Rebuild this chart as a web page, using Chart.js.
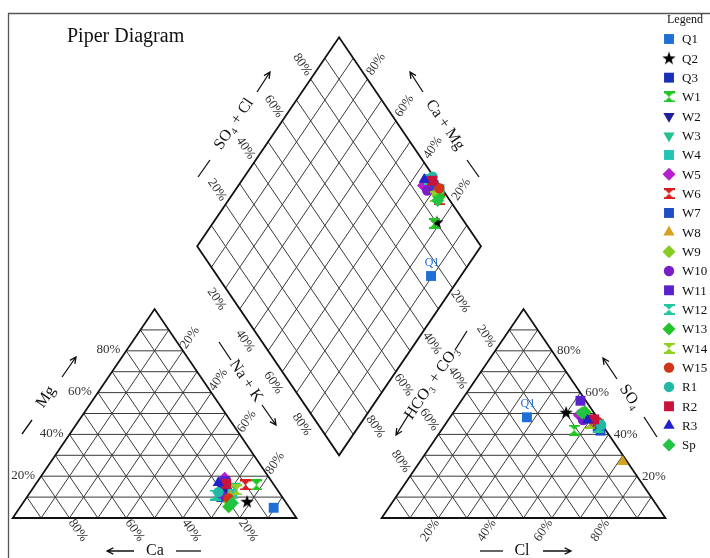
<!DOCTYPE html>
<html lang="en">
<head>
<meta charset="UTF-8">
<title>Piper Diagram</title>
<script src="https://cdn.jsdelivr.net/npm/chart.js"></script>
<style>
  html, body { margin: 0; padding: 0; background: #fff; }
  #box { width: 710px; height: 558px; }
</style>
</head>
<body>
<div id="box"><canvas id="piper" width="710" height="558"></canvas></div>
<script>
// samples, in legend order
const samples = ['Q1','Q2','Q3','W1','W2','W3','W4','W5','W6','W7','W8','W9','W10',
                 'W11','W12','W13','W14','W15','R1','R2','R3','Sp'];
// cations, % meq/l
const caPct  = [5.6, 13.5, 19.4, 6.2, 17.5, 13.9, 16.8, 15.8, 10.1, 21.5, 18.1, 19.8, 21.3, 18.3, 23.1, 21.2, 14.5, 19.2, 21.3, 16.6, 19.1, 19.0];
const mgPct  = [4.9, 7.8, 13.4, 15.8, 14.4, 15.3, 11.5, 19.0, 15.8, 10.0, 10.5, 7.7, 11.0, 17.7, 11.0, 5.4, 13.4, 9.4, 12.4, 16.3, 16.9, 7.2];
const naKPct = [89.5, 78.7, 67.2, 78.0, 68.1, 70.8, 71.7, 65.2, 74.1, 68.5, 71.4, 72.5, 67.7, 66.0, 65.9, 73.4, 72.1, 71.4, 66.3, 67.1, 64.0, 73.8];
// anions, % meq/l
const hco3Pct = [24.7, 9.8, 2.3, 11.1, 3.4, 1.5, 0.9, 5.7, 3.6, 2.0, 1.6, 3.1, 5.6, 1.9, 2.0, 3.0, 4.1, 0.8, 0.4, 1.5, 4.0, 4.3];
const so4Pct  = [48.2, 50.4, 43.1, 42.1, 47.9, 45.9, 45.0, 49.3, 45.3, 41.8, 26.9, 50.9, 46.9, 56.1, 43.5, 50.7, 45.0, 46.1, 44.5, 47.2, 46.9, 50.2];
const clPct   = [27.1, 39.8, 54.6, 46.8, 48.7, 52.6, 54.1, 45.0, 51.1, 56.2, 71.5, 46.0, 47.5, 42.0, 54.5, 46.3, 50.9, 53.1, 55.1, 51.3, 49.1, 45.5];
const tickPct = [20, 40, 60, 80];
const labelled = ['Q1'];

// marker look per sample
const colors = ['#1f6fd6','#000000','#1a2fb8','#22c422','#1f1f9e','#22c28a','#22c4b4','#b61fd0',
                '#d81f1f','#1f4fc4','#d4a21f','#86cc22','#7a1fc8','#5a22cc','#22c4a0','#22c42a',
                '#8fd022','#d0341a','#22b8a6','#c8143a','#2222c8','#22c444'];
const shapes = ['rect','star','rect','hour','down','down','rect','diamond','hour','rect','triangle',
                'diamond','circle','rect','hour','diamond','hour','circle','circle','rect','triangle','diamond'];

// geometry: triangle side 100, gap 30
const H = Math.sqrt(3) / 2 * 100;
const GAP = 30;
const R0 = 100 + GAP;                                    // left corner of anion triangle
const DL = { x: 100 + GAP / 2 - 50, y: H + GAP * H / 100 };   // diamond left vertex
const DT = { x: DL.x + 50, y: DL.y + H };
const DR = { x: DL.x + 100, y: DL.y };
const DB = { x: DL.x + 50, y: DL.y - H };

function cationXY(i) {
  return { x: naKPct[i] + mgPct[i] / 2, y: mgPct[i] * H / 100 };
}
function anionXY(i) {
  return { x: R0 + clPct[i] + so4Pct[i] / 2, y: so4Pct[i] * H / 100 };
}
function diamondXY(i) {
  const u = (so4Pct[i] + clPct[i]) / 100, v = naKPct[i] / 100;
  return { x: DL.x + 50 * (u + v), y: DL.y + H * (u - v) };
}

function hourglass(color) {
  const c = document.createElement('canvas');
  c.width = 11; c.height = 11;
  const g = c.getContext('2d');
  g.fillStyle = color;
  g.beginPath();
  g.moveTo(0.5, 0.5); g.lineTo(10.5, 0.5); g.lineTo(5.5, 5.5);
  g.lineTo(10.5, 10.5); g.lineTo(0.5, 10.5); g.lineTo(5.5, 5.5);
  g.closePath(); g.fill();
  g.fillRect(0, 0, 11, 2); g.fillRect(0, 9, 11, 2);
  return c;
}
function star(color) {
  const c = document.createElement('canvas');
  c.width = 14; c.height = 14;
  const g = c.getContext('2d');
  g.fillStyle = color;
  g.beginPath();
  for (let k = 0; k < 10; k++) {
    const r = k % 2 ? 2.8 : 7;
    const a = -Math.PI / 2 + k * Math.PI / 5;
    g.lineTo(7 + r * Math.cos(a), 7.3 + r * Math.sin(a));
  }
  g.closePath(); g.fill();
  return c;
}
function markerStyle(i) {
  const s = shapes[i], col = colors[i];
  if (s === 'rect') return { pointStyle: 'rect', radius: 7, rotation: 0 };
  if (s === 'circle') return { pointStyle: 'circle', radius: 5.2, rotation: 0 };
  if (s === 'diamond') return { pointStyle: 'rectRot', radius: 6.5, rotation: 0 };
  if (s === 'triangle') return { pointStyle: 'triangle', radius: 6.5, rotation: 0 };
  if (s === 'down') return { pointStyle: 'triangle', radius: 6.5, rotation: 180 };
  if (s === 'hour') return { pointStyle: hourglass(col), radius: 6, rotation: 0 };
  return { pointStyle: star(col), radius: 7, rotation: 0 };
}

// later samples are drawn on top of earlier ones
const datasets = samples.map((name, i) => {
  const m = markerStyle(i);
  return {
    label: name,
    data: [cationXY(i), anionXY(i), diamondXY(i)],
    order: samples.length - i,
    pointStyle: m.pointStyle,
    pointRadius: m.radius,
    pointRotation: m.rotation,
    backgroundColor: colors[i],
    borderColor: colors[i],
    borderWidth: 0,
    showLine: false,
    clip: false
  };
});

function lerp(a, b, t) { return { x: a.x + (b.x - a.x) * t, y: a.y + (b.y - a.y) * t }; }

function arrow(ctx, x1, y1, x2, y2) {
  const a = Math.atan2(y2 - y1, x2 - x1);
  ctx.beginPath();
  ctx.moveTo(x1, y1); ctx.lineTo(x2, y2);
  ctx.moveTo(x2 - 7 * Math.cos(a - 0.45), y2 - 7 * Math.sin(a - 0.45));
  ctx.lineTo(x2, y2);
  ctx.lineTo(x2 - 7 * Math.cos(a + 0.45), y2 - 7 * Math.sin(a + 0.45));
  ctx.stroke();
}
function dash(ctx, x1, y1, x2, y2) {
  ctx.beginPath(); ctx.moveTo(x1, y1); ctx.lineTo(x2, y2); ctx.stroke();
}
function rotText(ctx, text, x, y, ang, align) {
  ctx.save();
  ctx.translate(x, y);
  ctx.rotate(ang);
  ctx.textAlign = align || 'center';
  ctx.textBaseline = 'middle';
  ctx.fillText(text, 0, 0);
  ctx.restore();
}

const piperPlugin = {
  id: 'piper',
  beforeDatasetsDraw(chart) {
    const ctx = chart.ctx;
    const sx = chart.scales.x, sy = chart.scales.y;
    const P = p => ({ x: sx.getPixelForValue(p.x), y: sy.getPixelForValue(p.y) });
    const line = (a, b) => { const p = P(a), q = P(b); ctx.moveTo(p.x, p.y); ctx.lineTo(q.x, q.y); };

    const tA = { x: 0, y: 0 }, tB = { x: 100, y: 0 }, tC = { x: 50, y: H };
    const aA = { x: R0, y: 0 }, aB = { x: R0 + 100, y: 0 }, aC = { x: R0 + 50, y: H };

    ctx.save();
    // frame
    ctx.strokeStyle = '#555';
    ctx.lineWidth = 1.3;
    ctx.beginPath();
    ctx.moveTo(8.5, 558); ctx.lineTo(8.5, 13.5); ctx.lineTo(710, 13.5);
    ctx.stroke();

    // inner grid
    ctx.strokeStyle = '#3a3a3a';
    ctx.lineWidth = 1;
    ctx.beginPath();
    [[tA, tB, tC], [aA, aB, aC]].forEach(tri => {
      for (let k = 0; k < 3; k++) {
        const v = tri[k], p = tri[(k + 1) % 3], q = tri[(k + 2) % 3];
        for (let i = 1; i < 10; i++) line(lerp(v, p, i / 10), lerp(v, q, i / 10));
      }
    });
    for (let i = 1; i < 10; i++) {
      line(lerp(DL, DB, i / 10), lerp(DT, DR, i / 10));
      line(lerp(DL, DT, i / 10), lerp(DB, DR, i / 10));
    }
    ctx.stroke();

    // outlines
    ctx.strokeStyle = '#111';
    ctx.lineWidth = 1.8;
    ctx.lineJoin = 'miter';
    [[tA, tB, tC], [aA, aB, aC], [DL, DT, DR, DB]].forEach(poly => {
      ctx.beginPath();
      poly.forEach((v, k) => { const p = P(v); k ? ctx.lineTo(p.x, p.y) : ctx.moveTo(p.x, p.y); });
      ctx.closePath();
      ctx.stroke();
    });

    // tick labels
    const e0 = P(tC), e1 = P(tB);
    const A = Math.atan2(e1.y - e0.y, e1.x - e0.x);
    ctx.fillStyle = '#333';
    ctx.font = '13px "Liberation Serif", "Times New Roman", serif';
    tickPct.forEach(t => {
      const f = t / 100, lab = t + '%';
      let p;
      // Mg, left edge of cation triangle
      p = P(lerp(tA, tC, f)); rotText(ctx, lab, p.x - 6, p.y - 1, 0, 'right');
      // Ca, base of cation triangle
      p = P({ x: (1 - f) * 100, y: 0 }); rotText(ctx, lab, p.x + 8.4, p.y + 12.4, A);
      // Na + K, right edge of cation triangle
      p = P(lerp(tC, tB, f)); rotText(ctx, lab, p.x + 7, p.y - 13, -A);
      // diamond edges
      p = P(lerp(DL, DB, f)); rotText(ctx, lab, p.x - 9, p.y + 11, A);
      p = P(lerp(DL, DT, f)); rotText(ctx, lab, p.x - 8.5, p.y - 14.5, A);
      p = P(lerp(DR, DT, f)); rotText(ctx, lab, p.x + 8.7, p.y - 15, -A);
      p = P(lerp(DR, DB, f)); rotText(ctx, lab, p.x + 7.8, p.y + 13.2, A);
      // HCO3 + CO3, left edge of anion triangle
      p = P(lerp(aC, aA, f)); rotText(ctx, lab, p.x - 9.2, p.y - 14.7, A);
      // SO4, right edge of anion triangle
      p = P(lerp(aB, aC, f)); rotText(ctx, lab, p.x + 5, p.y, 0, 'left');
      // Cl, base of anion triangle
      p = P({ x: R0 + f * 100, y: 0 }); rotText(ctx, lab, p.x - 8.4, p.y + 12.4, -A);
    });

    // axis titles
    ctx.fillStyle = '#111';
    ctx.strokeStyle = '#111';
    ctx.lineWidth = 1.3;
    ctx.font = '16px "Liberation Serif", "Times New Roman", serif';
    rotText(ctx, 'Mg', 46, 397, -A);
    dash(ctx, 22, 434, 32, 420); arrow(ctx, 62, 377, 76, 357);
    rotText(ctx, 'Ca', 155, 551, 0);
    arrow(ctx, 134, 551, 107, 551); dash(ctx, 176, 551, 201, 551);
    rotText(ctx, 'Na + K', 246, 381, A);
    dash(ctx, 219, 342, 231, 360); arrow(ctx, 262, 405, 276, 425);
    rotText(ctx, 'SO\u2084 + Cl', 234, 124, -A);
    dash(ctx, 198, 177, 210, 160); arrow(ctx, 257, 92, 270, 72);
    rotText(ctx, 'Ca + Mg', 445, 125, A);
    arrow(ctx, 423, 92, 410, 72); dash(ctx, 467, 160, 479, 177);
    rotText(ctx, 'HCO\u2083 + CO\u2083', 432, 383, -A);
    dash(ctx, 455, 350, 467, 331); arrow(ctx, 409, 414, 396, 435);
    rotText(ctx, 'Cl', 522, 551, 0);
    dash(ctx, 480, 551, 503, 551); arrow(ctx, 543, 551, 571, 551);
    rotText(ctx, 'SO\u2084', 630, 397, A);
    arrow(ctx, 617, 379, 603, 358); dash(ctx, 644, 417, 657, 437);

    // title
    ctx.font = '20px "Liberation Serif", "Times New Roman", serif';
    ctx.textAlign = 'left';
    ctx.textBaseline = 'middle';
    ctx.fillText('Piper Diagram', 67, 37);
    ctx.restore();
  },
  afterDatasetsDraw(chart) {
    const ctx = chart.ctx;
    const sx = chart.scales.x, sy = chart.scales.y;
    ctx.save();
    // sample labels next to the anion and diamond points
    ctx.font = '12px "Liberation Serif", "Times New Roman", serif';
    ctx.textAlign = 'center';
    ctx.textBaseline = 'middle';
    labelled.forEach(name => {
      const i = samples.indexOf(name);
      ctx.fillStyle = colors[i];
      [anionXY(i), diamondXY(i)].forEach(p => {
        ctx.fillText(name, sx.getPixelForValue(p.x) + 1, sy.getPixelForValue(p.y) - 13);
      });
    });

    // legend
    ctx.textAlign = 'left';
    ctx.fillStyle = '#111';
    ctx.font = '12px "Liberation Serif", "Times New Roman", serif';
    ctx.fillText('Legend', 667, 20);
    ctx.font = '13px "Liberation Serif", "Times New Roman", serif';
    samples.forEach((name, i) => {
      const y = 39 + i * 19.33;
      const m = markerStyle(i);
      ctx.fillStyle = colors[i];
      ctx.strokeStyle = colors[i];
      Chart.helpers.drawPoint(ctx, { pointStyle: m.pointStyle, radius: m.radius, rotation: m.rotation, borderWidth: 0 }, 669, y);
      ctx.fillStyle = '#111';
      ctx.fillText(name, 682, y + 1);
    });
    ctx.restore();
  }
};

new Chart(document.getElementById('piper').getContext('2d'), {
  type: 'scatter',
  data: { datasets: datasets },
  options: {
    responsive: false,
    animation: false,
    events: [],
    layout: { padding: 0, autoPadding: false },
    plugins: { legend: { display: false }, tooltip: { enabled: false } },
    scales: {
      x: { type: 'linear', display: false, min: -4.475, max: 245.7 },
      y: { type: 'linear', display: false, min: -16.58, max: 214.67 }
    }
  },
  plugins: [piperPlugin]
});
</script>
</body>
</html>
